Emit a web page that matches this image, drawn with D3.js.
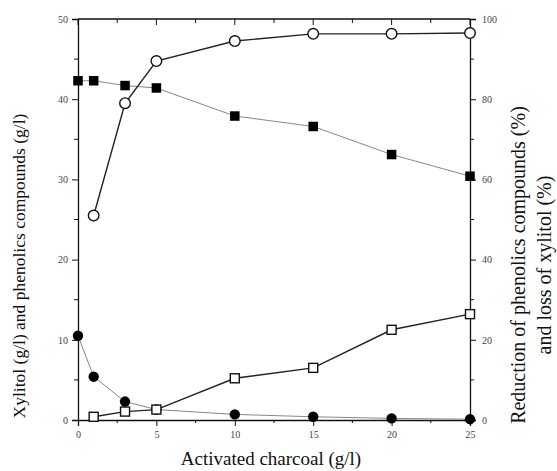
<!DOCTYPE html>
<html lang="en">
  <head>
    <meta charset="UTF-8" />
    <title>Activated charcoal</title>
    <style>
      body {
        margin: 0;
        background: #fff;
      }
      .axis text {
        font-size: 10px;
        fill: #444;
      }
      .axis path,
      .axis line {
        stroke: #111;
      }
      .title {
        fill: #111;
        text-anchor: middle;
      }
    </style>
  </head>
  <body>
    <svg width="557" height="471"></svg>
  </body>
  <script src="https://cdn.jsdelivr.net/npm/d3@7"></script>
  <script>
    let charcoal = [0, 1, 3, 5, 10, 15, 20, 25];
    // left axis (g/l)
    let xylitol = [42.3, 42.3, 41.7, 41.4, 37.9, 36.6, 33.1, 30.4];
    let phenolics = [10.5, 5.4, 2.3, 1.3, 0.7, 0.4, 0.2, 0.1];
    // right axis (%)
    let phenolReduction = [null, 51, 79, 89.5, 94.5, 96.3, 96.3, 96.5];
    let xylitolLoss = [null, 0.8, 2.1, 2.6, 10.4, 13, 22.5, 26.4];

    let xTicks = [0, 5, 10, 15, 20, 25];
    let leftTicks = [0, 10, 20, 30, 40, 50];
    let rightTicks = [0, 20, 40, 60, 80, 100];

    const serif = "Liberation Serif, Times New Roman, serif";
    let svg = d3.select("svg").attr("font-family", serif);
    let mLeft = 78, mRight = 470, mTop = 19, mBottom = 420;

    let x = d3.scaleLinear().domain([0, 25]).range([mLeft, mRight]);
    let yL = d3.scaleLinear().domain([0, 50]).range([mBottom, mTop]);
    let yR = d3.scaleLinear().domain([0, 100]).range([mBottom, mTop]);

    // frame: top line
    svg.append("line")
      .attr("x1", mLeft).attr("x2", mRight)
      .attr("y1", mTop).attr("y2", mTop)
      .attr("stroke", "#111").attr("stroke-width", 1.3);

    // ticks hanging from the top line
    let minorX = d3.range(0, 25.1, 2.5);
    svg.append("g").selectAll("line").data(minorX).join("line")
      .attr("x1", d => x(d)).attr("x2", d => x(d))
      .attr("y1", mTop).attr("y2", d => mTop + (d % 5 === 0 ? 6 : 4))
      .attr("stroke", "#111");

    svg.append("g").attr("class", "axis")
      .attr("transform", `translate(0,${mBottom})`)
      .call(d3.axisBottom(x).tickValues(xTicks).tickSize(6).tickPadding(5))
      .call(g => g.select(".domain").attr("stroke-width", 1.3));
    svg.append("g").selectAll("line").data(minorX.filter(d => d % 5 !== 0)).join("line")
      .attr("x1", d => x(d)).attr("x2", d => x(d))
      .attr("y1", mBottom).attr("y2", mBottom + 3)
      .attr("stroke", "#111");

    svg.append("g").attr("class", "axis")
      .attr("transform", `translate(${mLeft},0)`)
      .call(d3.axisLeft(yL).tickValues(leftTicks).tickSize(6).tickPadding(4))
      .call(g => g.select(".domain").attr("stroke-width", 1.3));
    svg.append("g").selectAll("line").data(d3.range(5, 50, 10)).join("line")
      .attr("x1", mLeft - 4).attr("x2", mLeft)
      .attr("y1", d => yL(d)).attr("y2", d => yL(d))
      .attr("stroke", "#111");

    svg.append("g").attr("class", "axis")
      .attr("transform", `translate(${mRight},0)`)
      .call(d3.axisRight(yR).tickValues(rightTicks).tickSize(6).tickPadding(6))
      .call(g => g.select(".domain").attr("stroke-width", 1.3));
    svg.append("g").selectAll("line").data(d3.range(10, 100, 20)).join("line")
      .attr("x1", mRight).attr("x2", mRight + 4)
      .attr("y1", d => yR(d)).attr("y2", d => yR(d))
      .attr("stroke", "#111");

    // d3.axis puts sans-serif on its groups; use the serif face instead
    svg.selectAll(".axis").attr("font-family", serif);

    function series(values, yScale, color, width) {
      let pts = charcoal.map((c, i) => ({ c, v: values[i] })).filter(d => d.v != null);
      svg.append("path")
        .datum(pts)
        .attr("fill", "none")
        .attr("stroke", color)
        .attr("stroke-width", width)
        .attr("d", d3.line().x(d => x(d.c)).y(d => yScale(d.v)));
      return pts;
    }

    let sq = series(xylitol, yL, "#888", 1);
    let ci = series(phenolics, yL, "#888", 1);
    let oc = series(phenolReduction, yR, "#222", 1.4);
    let os = series(xylitolLoss, yR, "#222", 1.4);

    svg.append("g").selectAll("rect").data(sq).join("rect")
      .attr("x", d => x(d.c) - 4.75).attr("y", d => yL(d.v) - 4.75)
      .attr("width", 9.5).attr("height", 9.5)
      .attr("fill", "#000");

    svg.append("g").selectAll("circle").data(ci).join("circle")
      .attr("cx", d => x(d.c)).attr("cy", d => yL(d.v))
      .attr("r", 5.2).attr("fill", "#000");

    svg.append("g").selectAll("circle").data(oc).join("circle")
      .attr("cx", d => x(d.c)).attr("cy", d => yR(d.v))
      .attr("r", 5.3).attr("fill", "#fff")
      .attr("stroke", "#111").attr("stroke-width", 1.4);

    svg.append("g").selectAll("rect").data(os).join("rect")
      .attr("x", d => x(d.c) - 4.5).attr("y", d => yR(d.v) - 4.5)
      .attr("width", 9).attr("height", 9)
      .attr("fill", "#fff")
      .attr("stroke", "#111").attr("stroke-width", 1.4);

    // titles
    svg.append("text").attr("class", "title")
      .attr("font-size", 19)
      .attr("x", 271).attr("y", 465)
      .text("Activated charcoal (g/l)");

    svg.append("text").attr("class", "title")
      .attr("font-size", 17.5)
      .attr("transform", "translate(25,266) rotate(-90)")
      .text("Xylitol (g/l) and phenolics compounds (g/l)");

    svg.append("text").attr("class", "title")
      .attr("font-size", 20)
      .attr("transform", "translate(525,265) rotate(-90)")
      .text("Reduction of phenolics compounds (%)");
    svg.append("text").attr("class", "title")
      .attr("font-size", 20)
      .attr("transform", "translate(551,265) rotate(-90)")
      .text("and loss of xylitol (%)");
  </script>
</html>
